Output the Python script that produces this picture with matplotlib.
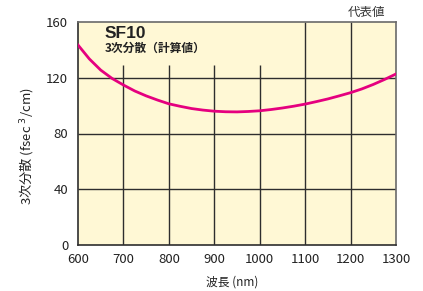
import matplotlib
matplotlib.use("Agg")
import matplotlib.pyplot as plt

plt.rcParams['font.family'] = ['Liberation Sans Narrow', 'Noto Sans CJK JP', 'DejaVu Sans']

wavelength = [600, 625, 650, 675, 700, 725, 750, 775, 800, 825, 850, 875, 900, 925, 950,
              975, 1000, 1025, 1050, 1075, 1100, 1125, 1150, 1175, 1200, 1225, 1250, 1275, 1300]
gdd = [143.5, 133.5, 125.5, 119.5, 114.8, 110.5, 107.0, 104.0, 101.3, 99.5, 97.9, 96.8, 96.0,
       95.6, 95.5, 95.8, 96.3, 97.2, 98.3, 99.6, 101.1, 102.9, 104.8, 107.0, 109.3, 112.0,
       115.2, 118.8, 122.7]
xticks = [600, 700, 800, 900, 1000, 1100, 1200, 1300]
yticks = [0, 40, 80, 120, 160]
short_grid_x = [700, 800, 900, 1000]
full_grid_x = [1100, 1200]
grid_y = [40, 80, 120]

fig = plt.figure(figsize=(4.23, 2.91), dpi=100)
ax = fig.add_axes([78/423, 46/291, 318/423, 223/291])
ax.set_facecolor('#FFF8D5')
ax.set_xlim(600, 1300)
ax.set_ylim(0, 160)

gc = '#2e2e2e'
ax.hlines(grid_y, 600, 1300, color=gc, lw=1.0, zorder=1)
ax.vlines(short_grid_x, 0, 129, color=gc, lw=1.0, zorder=1)
ax.vlines(full_grid_x, 0, 160, color=gc, lw=1.0, zorder=1)

ax.plot(wavelength, gdd, color='#E5007F', lw=2.0, zorder=3)

ax.spines['left'].set_color('#2e2e2e')
ax.spines['bottom'].set_color('#2e2e2e')
ax.spines['top'].set_color('#6a6a6a')
ax.spines['right'].set_color('#6a6a6a')
for s in ax.spines.values():
    s.set_linewidth(1.2)

ax.set_xticks(xticks)
ax.set_yticks(yticks)
ax.tick_params(length=0, labelsize=9.5, colors='#222222')
ax.tick_params(axis='y', pad=7)
ax.tick_params(axis='x', pad=6)
ax.set_xticklabels([str(v) for v in xticks])

ax.text(27/318, 1 - 12/223, 'SF10', transform=ax.transAxes, fontsize=12.5, fontweight='bold',
        family=['Liberation Sans', 'DejaVu Sans'], color='#222222', va='center', ha='left')
ax.text(27/318, 1 - 26/223, '3次分散（計算値）', transform=ax.transAxes, fontsize=8.5, fontweight='bold',
        family=['Noto Sans CJK JP', 'DejaVu Sans'], color='#222222', va='center', ha='left')

fig.text(366/423, 1 - 12/291, '代表値', fontsize=9, family=['Noto Sans CJK JP'], color='#333333',
         ha='center', va='center')
fig.text(26/423, 1 - 146/291, '3次分散 (fsec $^3$/cm)', rotation=90, fontsize=9.5,
         family=['Noto Sans CJK JP', 'DejaVu Sans'], color='#222222', ha='center', va='center')
fig.text(232/423, 1 - 282/291, '波長 (nm)', fontsize=8.5, family=['Noto Sans CJK JP', 'DejaVu Sans'],
         color='#222222', ha='center', va='center')

fig.savefig('out.png', dpi=100)
